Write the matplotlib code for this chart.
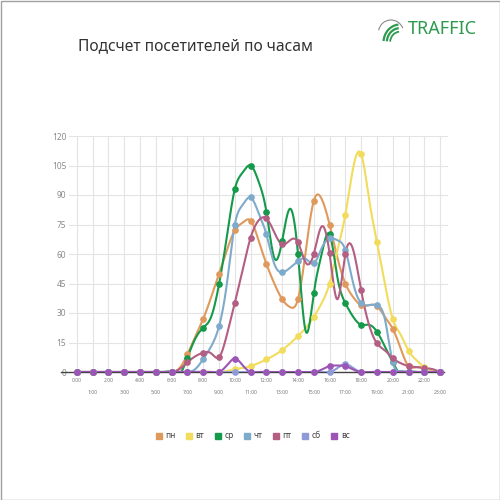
import numpy as np
import matplotlib
matplotlib.use("Agg")
import matplotlib.pyplot as plt
from matplotlib.lines import Line2D
from matplotlib.patches import Rectangle, Arc

plt.rcParams['font.family'] = ['Noto Sans', 'DejaVu Sans']

# часы (маркеры на каждом часе) и промежуточные значения на полчаса
hours = list(range(24))
hour_labels = ['%d:00' % h for h in hours]
day_names = ['пн', 'вт', 'ср', 'чт', 'пт', 'сб', 'вс']

# значения на целых часах
mon = [0, 0, 0, 0, 0, 0, 0, 9, 27, 50, 72, 77, 55, 37, 37, 87, 75, 45, 34, 33.5, 22, 3, 2, 0]
tue = [0, 0, 0, 0, 0, 0, 0, 0, 0, 0, 1.4, 3, 6.4, 11.2, 18.3, 28, 45, 80, 110.8, 66, 27, 10.8, 2.5, 0]
wed = [0, 0, 0, 0, 0, 0, 0, 7.3, 22.5, 44.6, 93, 105, 81.5, 66.8, 60, 40, 70, 35, 24, 20.5, 5, 0, 0, 0]
thu = [0, 0, 0, 0, 0, 0, 0, 0, 6.6, 23.2, 75, 88.8, 70, 50.7, 56.4, 55.2, 68, 62, 35, 34, 5, 0, 0, 0]
fri = [0, 0, 0, 0, 0, 0, 0, 4.9, 9.8, 7.5, 35.2, 68.3, 78.1, 64.9, 65.9, 60, 60.3, 60, 41.5, 14.6, 7, 3, 2, 0]
sat = [0, 0, 0, 0, 0, 0, 0, 0, 0, 0, 0, 0, 0, 0, 0, 0, 0, 4, 0, 0, 0, 0, 0, 0]
sun = [0, 0, 0, 0, 0, 0, 0, 0, 0, 0, 6.8, 0, 0, 0, 0, 0, 3, 3, 0, 0, 0, 0, 0, 0]

# значения на 0:30, 1:30 ... 22:30
mon_half = [0, 0, 0, 0, 0, 0, 2, 18, 38, 62, 76, 67, 45, 33, 62, 88, 58, 38, 34, 28, 12, 2.5, 1]
tue_half = [0, 0, 0, 0, 0, 0, 0, 0, 0, 0.5, 2, 4.5, 8.5, 14.5, 22.5, 35, 62, 104, 88, 45, 19, 6, 1]
wed_half = [0, 0, 0, 0, 0, 0, -1, 17, 28, 69, 101.5, 97, 58, 83, 20.5, 60, 48, 28, 24, 13, -1, 0, 0]
thu_half = [0, 0, 0, 0, 0, 0, 0, 1.5, 13, 45, 85, 81, 55, 53, 57.5, 63, 67, 45, 34, 27, 0.5, 0, 0]
fri_half = [0, 0, 0, 0, 0, 0, 1.5, 8, 9.5, 19, 52, 77, 71, 67, 55.5, 74, 37, 62, 24, 11, 4.5, 2.5, 1.5]
sat_half = [0, 0, 0, 0, 0, 0, 0, 0, 0, 0, 0, 0, 0, 0, 0, 0, 2, 2, 0, 0, 0, 0, 0]
sun_half = [0, 0, 0, 0, 0, 0, 0, 0, 0, 3.4, 3.4, 0, 0, 0, 0, 1.2, 3.3, 1.2, 0, 0, 0, 0, 0]

colors = ['#e0995c', '#f2dc5d', '#15994a', '#7eabcc', '#b35e82', '#8e9bd8', '#9c55b5']


def natural_spline(x, y, xs):
    x = np.asarray(x, float)
    y = np.asarray(y, float)
    n = len(x)
    h = np.diff(x)
    A = np.zeros((n, n))
    rhs = np.zeros(n)
    A[0, 0] = 1
    A[-1, -1] = 1
    for i in range(1, n - 1):
        A[i, i - 1] = h[i - 1]
        A[i, i] = 2 * (h[i - 1] + h[i])
        A[i, i + 1] = h[i]
        rhs[i] = 3 * ((y[i + 1] - y[i]) / h[i] - (y[i] - y[i - 1]) / h[i - 1])
    c = np.linalg.solve(A, rhs)
    b = (y[1:] - y[:-1]) / h - h * (2 * c[:-1] + c[1:]) / 3
    d = (c[1:] - c[:-1]) / (3 * h)
    idx = np.clip(np.searchsorted(x, xs) - 1, 0, n - 2)
    t = xs - x[idx]
    return y[idx] + b[idx] * t + c[idx] * t ** 2 + d[idx] * t ** 3


fig = plt.figure(figsize=(5, 5), dpi=100)
fig.patches.append(Rectangle((0.001, 0.001), 0.998, 0.998, transform=fig.transFigure,
                             fill=False, edgecolor='#a0a0a0', linewidth=1.0))

ax = fig.add_axes([0.138, 0.256, 0.758, 0.472])

series = [(mon, mon_half), (tue, tue_half), (wed, wed_half), (thu, thu_half),
          (fri, fri_half), (sat, sat_half), (sun, sun_half)]

xs = np.linspace(0, 23, 1200)
for (vals, half), col, name in zip(series, colors, day_names):
    kx = []
    ky = []
    for i in range(23):
        kx += [hours[i], hours[i] + 0.5]
        ky += [vals[i], half[i]]
    kx.append(hours[23])
    ky.append(vals[23])
    ys = natural_spline(kx, ky, xs)
    ax.plot(xs, ys, color=col, lw=1.5, zorder=3)
    ax.plot(hours, vals, 'o', color=col, ms=3.8, zorder=4, clip_on=False)

ax.axhline(0, color='#444444', lw=1.0, zorder=2, xmin=-0.02, xmax=0.99, clip_on=False)

ax.set_xlim(-0.5, 23.5)
ax.set_ylim(0, 120)
ax.set_yticks(np.arange(0, 121, 15))
ax.set_xticks(hours)
ax.set_xticklabels([])
ax.grid(True, color='#e4e4e4', lw=0.8, zorder=0)
for s in ax.spines.values():
    s.set_visible(False)
ax.tick_params(axis='both', length=0, labelsize=6, colors='#8a8a8a', pad=2)

for h, lab in zip(hours, hour_labels):
    yoff = -6 if h % 2 == 0 else -15
    ax.annotate(lab, (h, 0), xytext=(0, yoff), textcoords='offset points',
                ha='center', va='center', fontsize=3.6, color='#777777',
                annotation_clip=False)

fig.text(0.155, 0.908, 'Подсчет посетителей по часам', fontsize=11.2, color='#333333',
         ha='left', va='center')

# логотип
fig.text(0.815, 0.942, 'TRAFFIC', fontsize=13, color='#2e9a4f', ha='left', va='center')
for r, w in [(0.030, 1.6), (0.024, 1.6), (0.018, 1.3)]:
    fig.patches.append(Arc((0.800, 0.915), r * 2.2, r * 2.4, theta1=95, theta2=175,
                           transform=fig.transFigure, color='#2e9a4f', lw=w))
fig.patches.append(Arc((0.782, 0.935), 0.05, 0.05, theta1=20, theta2=170,
                       transform=fig.transFigure, color='#8a8a8a', lw=0.8))

handles = [Line2D([], [], marker='s', ls='', color=c, ms=4) for c in colors]
fig.legend(handles, day_names, loc='center', bbox_to_anchor=(0.505, 0.128), ncol=7,
           frameon=False, fontsize=6, handlelength=0.8, handletextpad=0.4,
           columnspacing=1.2, labelcolor='#444444')

fig.savefig('out.png', dpi=100, facecolor='white')
